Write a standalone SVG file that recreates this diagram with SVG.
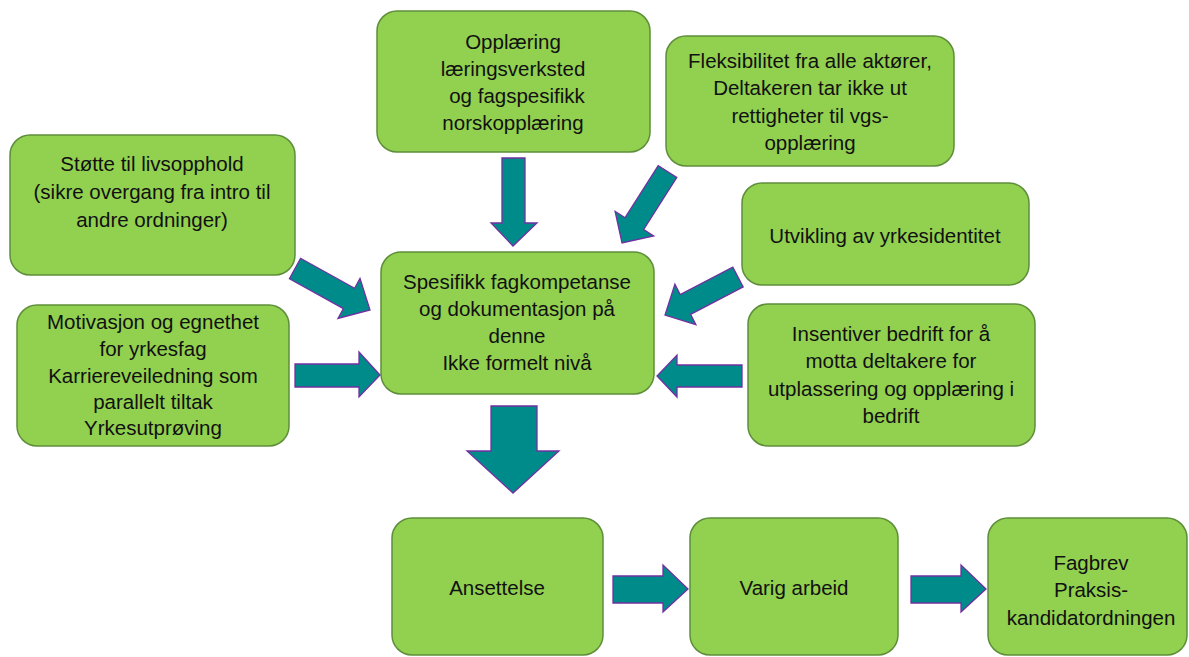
<svg xmlns="http://www.w3.org/2000/svg" width="1189" height="657" viewBox="0 0 1189 657">
<style>
.box{fill:#92D050;stroke:#5E8E3A;stroke-width:1.5}
.arr{fill:#008B8B;stroke:#7030A0;stroke-width:1.3;stroke-linejoin:miter}
text{font-family:"Liberation Sans",Arial,sans-serif;font-size:20.5px;fill:#111;text-anchor:middle}
</style>
<rect width="1189" height="657" fill="#fff"/>
<g id="n-opplaering"><rect class="box" x="377" y="11" width="273" height="141" rx="20"/>
<text x="513" y="49">Opplæring</text><text x="513" y="76">læringsverksted</text><text x="517" y="103">og fagspesifikk</text><text x="513" y="130">norskopplæring</text></g>
<g id="n-fleks"><rect class="box" x="666" y="36" width="288" height="130" rx="20"/>
<text x="810" y="68">Fleksibilitet fra alle aktører,</text><text x="810" y="95">Deltakeren tar ikke ut</text><text x="810" y="123">rettigheter til vgs-</text><text x="810" y="150">opplæring</text></g>
<g id="n-stotte"><rect class="box" x="10" y="135" width="285" height="140" rx="20"/>
<text x="152" y="171">Støtte til livsopphold</text><text x="152" y="199">(sikre overgang fra intro til</text><text x="152" y="227">andre ordninger)</text></g>
<g id="n-utvikling"><rect class="box" x="742" y="183" width="287" height="102" rx="20"/>
<text x="885" y="243">Utvikling av yrkesidentitet</text></g>
<g id="n-spesifikk"><rect class="box" x="381" y="252" width="273" height="142" rx="20"/>
<text x="517" y="289">Spesifikk fagkompetanse</text><text x="517" y="316">og dokumentasjon på</text><text x="517" y="343">denne</text><text x="517" y="370">Ikke formelt nivå</text></g>
<g id="n-motivasjon"><rect class="box" x="17" y="305" width="272" height="141" rx="20"/>
<text x="153" y="329">Motivasjon og egnethet</text><text x="153" y="356">for yrkesfag</text><text x="153" y="383">Karriereveiledning som</text><text x="153" y="409">parallelt tiltak</text><text x="153" y="435">Yrkesutprøving</text></g>
<g id="n-insentiver"><rect class="box" x="748" y="304" width="287" height="142" rx="20"/>
<text x="891" y="341">Insentiver bedrift for å</text><text x="891" y="368">motta deltakere for</text><text x="891" y="396">utplassering og opplæring i</text><text x="891" y="423">bedrift</text></g>
<g id="n-ansettelse"><rect class="box" x="392" y="518" width="211" height="137" rx="20"/>
<text x="497" y="595">Ansettelse</text></g>
<g id="n-varig"><rect class="box" x="690" y="518" width="208" height="137" rx="20"/>
<text x="794" y="595">Varig arbeid</text></g>
<g id="n-fagbrev"><rect class="box" x="988" y="518" width="199" height="137" rx="20"/>
<text x="1091" y="570">Fagbrev</text><text x="1091" y="597">Praksis-</text><text x="1091" y="625">kandidatordningen</text></g>
<g id="connectors">
<polygon class="arr" points="502,158 525,158 525,223 537,223 513,246 491,223 502,223"/>
<polygon class="arr" points="676.8,177.4 643.7,229.5 653.7,235.9 622,243 615.1,211.3 625.1,217.7 658.2,165.6"/>
<polygon class="arr" points="289.4,278.7 343.4,308.6 338,318.4 370,310 360,278.5 354.6,288.2 300.6,258.3"/>
<polygon class="arr" points="295,364 359,364 359,352 380,375 359,397 359,387 295,387"/>
<polygon class="arr" points="743.2,286.9 690.6,314.3 695.9,324.6 665,315 674.9,284.2 680.2,294.5 732.8,267.1"/>
<polygon class="arr" points="742,365 677,365 677,355 657,376 677,397 677,387 742,387"/>
<polygon class="arr" points="491,406 537,406 537,451 559,451 513,493 467,451 491,451"/>
<polygon class="arr" points="613,576 663,576 663,565 688,589 663,612 663,603 613,603"/>
<polygon class="arr" points="911,576 961,576 961,565 986,589 961,612 961,603 911,603"/>
</g>
</svg>
